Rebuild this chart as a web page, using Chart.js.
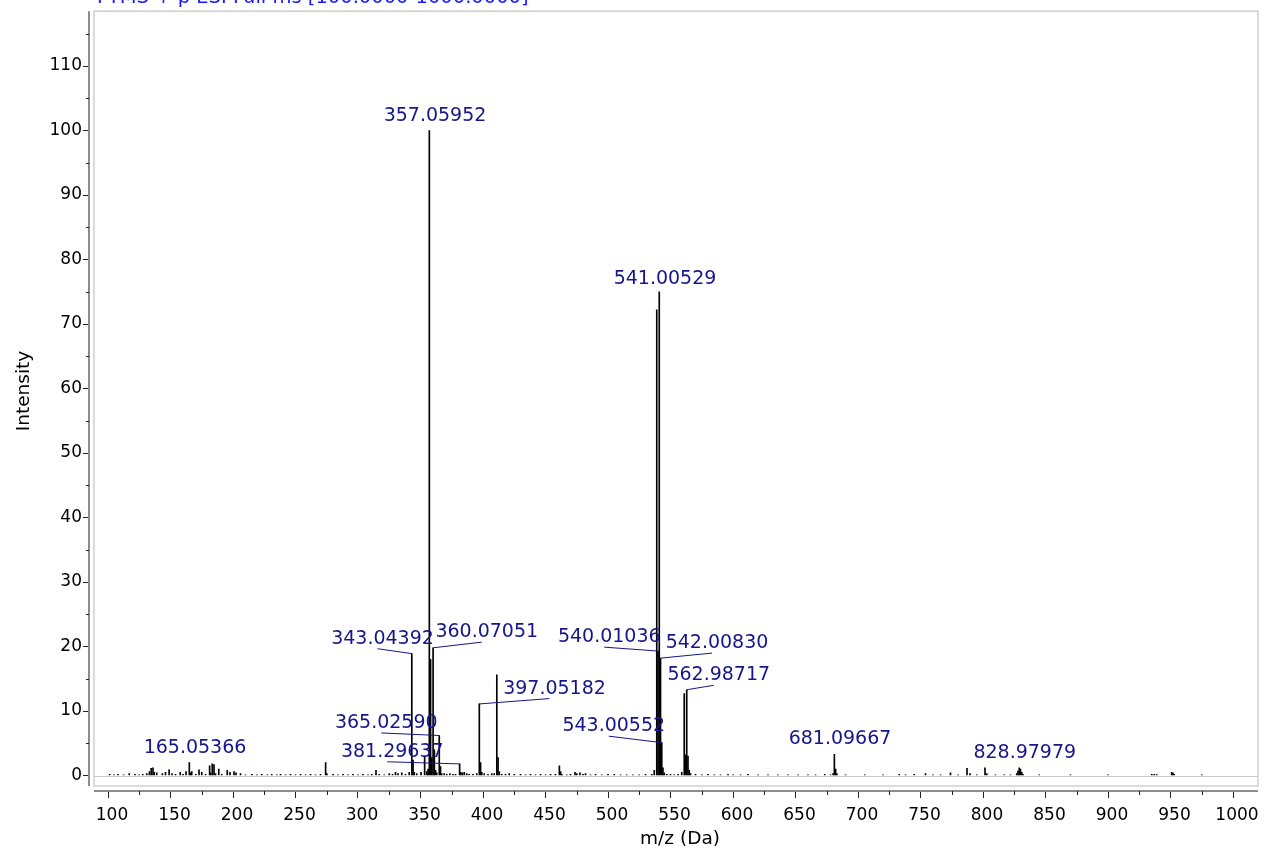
<!DOCTYPE html>
<html>
<head>
<meta charset="utf-8">
<title>FTMS spectrum</title>
<script src="https://cdn.jsdelivr.net/npm/chart.js@4.4.0/dist/chart.umd.min.js"></script>
<style>
  html, body { margin: 0; padding: 0; background: #fff; }
  #wrap { width: 1264px; height: 852px; }
</style>
</head>
<body>
<div id="wrap"><canvas id="spectrum" width="1264" height="852"></canvas></div>
<script>
// Centroided peaks: m/z and relative intensity (%)
const peakMz = [
  101.3, 104.8, 108.0, 112.5, 117.0, 121.6, 124.9, 127.8, 131.0, 133.1,
  134.5, 136.0, 137.0, 139.0, 143.5, 146.0, 148.9, 151.2, 154.0, 157.8,
  160.0, 162.4, 165.05366, 166.1, 167.0, 170.2, 172.8, 175.0, 178.0, 181.3,
  182.1, 183.4, 184.8, 186.0, 188.6, 191.0, 195.4, 197.6, 200.8, 202.4,
  206.0, 210.0, 215.1, 219.0, 223.0, 227.5, 231.0, 235.0, 238.0, 242.0,
  246.0, 250.0, 254.0, 258.0, 262.0, 266.0, 270.0, 274.1, 275.1, 280.0,
  284.0, 288.0, 292.0, 296.0, 300.0, 304.0, 308.0, 311.0, 314.4, 317.0,
  321.0, 325.0, 327.6, 330.0, 332.0, 335.0, 338.0, 341.0, 343.04392, 344.05,
  345.0, 347.0, 350.4, 353.3, 355.0, 356.05, 357.05952, 358.06, 359.06, 360.07051,
  361.07, 362.07, 363.0, 365.0259, 366.03, 367.0, 369.0, 371.0, 373.5, 376.0,
  378.0, 381.29637, 382.3, 383.5, 385.0, 387.0, 389.0, 392.0, 395.0, 397.05182,
  398.05, 399.05, 401.0, 404.0, 407.0, 409.0, 411.05, 412.05, 413.05, 415.0,
  418.0, 421.0, 425.0, 430.0, 434.0, 438.0, 442.0, 446.0, 450.0, 454.0,
  458.0, 461.1, 462.1, 463.1, 467.0, 470.0, 473.6, 475.0, 477.5, 480.0,
  482.0, 486.0, 490.0, 495.0, 500.0, 505.0, 510.0, 515.0, 520.0, 525.0,
  530.0, 535.0, 537.0, 539.01, 540.01036, 541.00529, 542.0083, 543.00552, 544.0, 545.0,
  547.0, 550.0, 553.0, 556.0, 559.0, 560.99, 561.99, 562.98717, 563.99, 564.99,
  566.0, 570.0, 575.0, 580.0, 585.0, 590.0, 596.0, 600.0, 606.0, 612.0,
  620.0, 628.0, 636.0, 644.0, 652.0, 660.0, 666.0, 673.4, 678.0, 680.1,
  681.09667, 682.1, 683.1, 690.0, 705.4, 720.0, 733.0, 738.0, 745.0, 754.0,
  760.0, 766.0, 774.0, 780.0, 787.2, 789.6, 795.0, 801.6, 803.0, 810.0,
  817.0, 822.0, 826.98, 827.98, 828.97979, 829.98, 830.98, 831.98, 845.0, 870.0,
  900.0, 935.0, 937.0, 939.0, 950.9, 952.0, 953.0, 975.0
];
const peakIntensity = [
  0.2, 0.1, 0.2, 0.1, 0.3, 0.2, 0.1, 0.2, 0.3, 0.6,
  1.1, 1.2, 0.5, 0.4, 0.3, 0.5, 0.9, 0.3, 0.2, 0.5,
  0.2, 0.6, 2.0, 0.4, 0.6, 0.2, 0.9, 0.5, 0.2, 1.5,
  0.4, 1.8, 1.7, 0.3, 1.0, 0.2, 0.8, 0.5, 0.6, 0.4,
  0.3, 0.1, 0.2, 0.1, 0.2, 0.1, 0.2, 0.1, 0.2, 0.1,
  0.2, 0.1, 0.2, 0.1, 0.2, 0.1, 0.2, 2.0, 0.3, 0.2,
  0.1, 0.2, 0.1, 0.2, 0.1, 0.2, 0.1, 0.2, 0.8, 0.2,
  0.1, 0.3, 0.2, 0.5, 0.3, 0.4, 0.2, 0.5, 18.9, 2.4,
  0.5, 0.3, 0.5, 2.9, 0.6, 1.0, 100, 18.0, 2.8, 19.8,
  4.0, 0.8, 0.4, 6.2, 1.4, 0.3, 0.3, 0.2, 0.3, 0.2,
  0.2, 1.8, 0.5, 0.4, 0.5, 0.3, 0.2, 0.2, 0.3, 11.1,
  2.0, 0.5, 0.3, 0.2, 0.3, 0.3, 15.6, 2.8, 0.6, 0.2,
  0.2, 0.3, 0.2, 0.2, 0.1, 0.2, 0.1, 0.2, 0.1, 0.2,
  0.2, 1.5, 0.6, 0.2, 0.1, 0.2, 0.5, 0.3, 0.4, 0.2,
  0.3, 0.1, 0.2, 0.1, 0.2, 0.2, 0.1, 0.1, 0.1, 0.1,
  0.2, 0.2, 0.8, 72.2, 19.3, 75.0, 18.2, 5.1, 1.2, 0.4,
  0.2, 0.2, 0.1, 0.2, 0.5, 12.7, 3.2, 13.3, 3.0, 0.8,
  0.3, 0.2, 0.1, 0.2, 0.1, 0.1, 0.2, 0.1, 0.1, 0.2,
  0.1, 0.1, 0.1, 0.1, 0.1, 0.1, 0.1, 0.2, 0.1, 0.3,
  3.3, 1.0, 0.3, 0.1, 0.1, 0.1, 0.2, 0.1, 0.2, 0.3,
  0.1, 0.1, 0.4, 0.1, 1.1, 0.3, 0.1, 1.2, 0.3, 0.1,
  0.1, 0.1, 0.3, 0.7, 1.2, 1.0, 0.5, 0.2, 0.1, 0.1,
  0.1, 0.2, 0.2, 0.15, 0.5, 0.4, 0.2, 0.1
];

// axis ticks
const xTickValues = [100, 150, 200, 250, 300, 350, 400, 450, 500, 550, 600, 650, 700, 750, 800, 850, 900, 950, 1000];
const xMinorTicks = [125, 175, 225, 275, 325, 375, 425, 475, 525, 575, 625, 675, 725, 775, 825, 875, 925, 975];
const yTickValues = [0, 10, 20, 30, 40, 50, 60, 70, 80, 90, 100, 110];
const yMinorTicks = [5, 15, 25, 35, 45, 55, 65, 75, 85, 95, 105, 115];

// peak annotations: text, where the text sits (m/z, intensity), leader line to the peak or not
const labelText = ['165.05366', '343.04392', '357.05952', '360.07051', '365.02590', '381.29637',
  '397.05182', '540.01036', '541.00529', '542.00830', '543.00552', '562.98717', '681.09667', '828.97979'];
const labelMz = [165.6, 315.6, 357.6, 399.0, 318.6, 323.4, 453.2, 497.0, 541.6, 583.2, 500.6, 584.6, 681.6, 829.4];
const labelInt = [2.7, 19.66, 100.7, 20.68, 6.6, 2.13, 11.93, 19.9, 75.4, 18.98, 6.1, 13.99, 4.05, 1.89];
const labelLeader = [false, true, false, true, true, true, true, true, false, true, true, true, false, false];

const scanTitle = 'FTMS + p ESI Full ms [100.0000-1000.0000]';

const FONT = '"DejaVu Sans", Verdana, sans-serif';
const LABEL_BLUE = '#16168c';

function plotBox(chart) {
  const a = chart.chartArea;
  return { left: a.left + 5, top: a.top, right: a.right, bottom: a.bottom - 5 };
}

const spectrumDecor = {
  id: 'spectrumDecor',
  beforeDatasetsDraw(chart) {
    const { ctx, scales: { y } } = chart;
    const box = plotBox(chart);
    // zero line
    const y0 = Math.round(y.getPixelForValue(0)) + 0.5;
    ctx.save();
    ctx.strokeStyle = '#c8c8c8';
    ctx.lineWidth = 1;
    ctx.beginPath();
    ctx.moveTo(box.left, y0);
    ctx.lineTo(box.right, y0);
    ctx.stroke();
    ctx.restore();
  },
  afterDraw(chart) {
    const { ctx, chartArea: area, scales: { x, y } } = chart;
    const box = plotBox(chart);
    ctx.save();

    // plot frame
    ctx.strokeStyle = '#cfcfcf';
    ctx.lineWidth = 1.5;
    ctx.strokeRect(box.left, box.top, box.right - box.left, box.bottom - box.top);

    // axis lines, set off from the frame
    ctx.strokeStyle = '#8c8c8c';
    ctx.lineWidth = 2;
    ctx.beginPath();
    ctx.moveTo(area.left, box.top);
    ctx.lineTo(area.left, box.bottom);
    ctx.moveTo(box.left, area.bottom);
    ctx.lineTo(box.right, area.bottom);
    ctx.stroke();

    // minor ticks
    ctx.strokeStyle = '#222';
    ctx.lineWidth = 1;
    ctx.beginPath();
    yMinorTicks.forEach(v => {
      const py = Math.round(y.getPixelForValue(v)) + 0.5;
      ctx.moveTo(area.left - 3, py);
      ctx.lineTo(area.left, py);
    });
    xMinorTicks.forEach(v => {
      const px = Math.round(x.getPixelForValue(v)) + 0.5;
      ctx.moveTo(px, area.bottom);
      ctx.lineTo(px, area.bottom + 4);
    });
    ctx.stroke();

    // peak labels
    ctx.font = '19px ' + FONT;
    ctx.fillStyle = LABEL_BLUE;
    ctx.strokeStyle = LABEL_BLUE;
    ctx.lineWidth = 1;
    ctx.textAlign = 'center';
    ctx.textBaseline = 'alphabetic';
    labelText.forEach((t, i) => {
      const px = x.getPixelForValue(labelMz[i]);
      const py = y.getPixelForValue(labelInt[i]);
      ctx.fillText(t, px + 5, py - 5);
      if (labelLeader[i]) {
        const mz = parseFloat(t);
        const k = peakMz.indexOf(mz);
        ctx.beginPath();
        ctx.moveTo(px, py);
        ctx.lineTo(x.getPixelForValue(mz), y.getPixelForValue(peakIntensity[k]));
        ctx.stroke();
      }
    });

    // scan header, clipped by the top of the page
    ctx.fillStyle = '#1a1aff';
    ctx.textAlign = 'left';
    ctx.font = '19.5px ' + FONT;
    ctx.fillText(scanTitle, box.left + 3, 3);

    // axis titles
    ctx.fillStyle = '#000';
    ctx.font = '18.5px ' + FONT;
    ctx.textAlign = 'center';
    ctx.textBaseline = 'middle';
    ctx.fillText('m/z (Da)', 680, 839);
    ctx.translate(24, 391);
    ctx.rotate(-Math.PI / 2);
    ctx.fillText('Intensity', 0, 0);

    ctx.restore();
  }
};

const tickFont = { family: FONT, size: 17 };

new Chart(document.getElementById('spectrum'), {
  type: 'bar',
  data: {
    datasets: [{
      label: 'Intensity',
      data: peakMz.map((mz, i) => ({ x: mz, y: peakIntensity[i] })),
      backgroundColor: '#000',
      borderWidth: 0,
      barThickness: 1,
      grouped: false
    }]
  },
  options: {
    responsive: false,
    animation: false,
    devicePixelRatio: 1,
    layout: { padding: { top: 9, right: 6, left: 0, bottom: 0 } },
    plugins: { legend: { display: false }, tooltip: { enabled: false } },
    scales: {
      x: {
        type: 'linear',
        min: 84.8,
        max: 1020,
        offset: false,
        afterBuildTicks: s => { s.ticks = xTickValues.map(v => ({ value: v })); },
        afterFit: s => { s.height = 61; },
        border: { display: false },
        grid: { offset: false, drawOnChartArea: false, tickLength: 7, tickColor: '#222' },
        ticks: {
          font: tickFont, color: '#000', padding: 7, labelOffset: 4,
          maxRotation: 0, autoSkip: false, callback: v => String(v)
        }
      },
      y: {
        min: -2.4,
        max: 118.5,
        afterBuildTicks: s => { s.ticks = yTickValues.map(v => ({ value: v })); },
        afterFit: s => { s.width = 89; },
        border: { display: false },
        grid: { drawOnChartArea: false, tickLength: 6, tickColor: '#222' },
        ticks: { font: tickFont, color: '#000', padding: 1, callback: v => String(v) }
      }
    }
  },
  plugins: [spectrumDecor]
});
</script>
</body>
</html>
